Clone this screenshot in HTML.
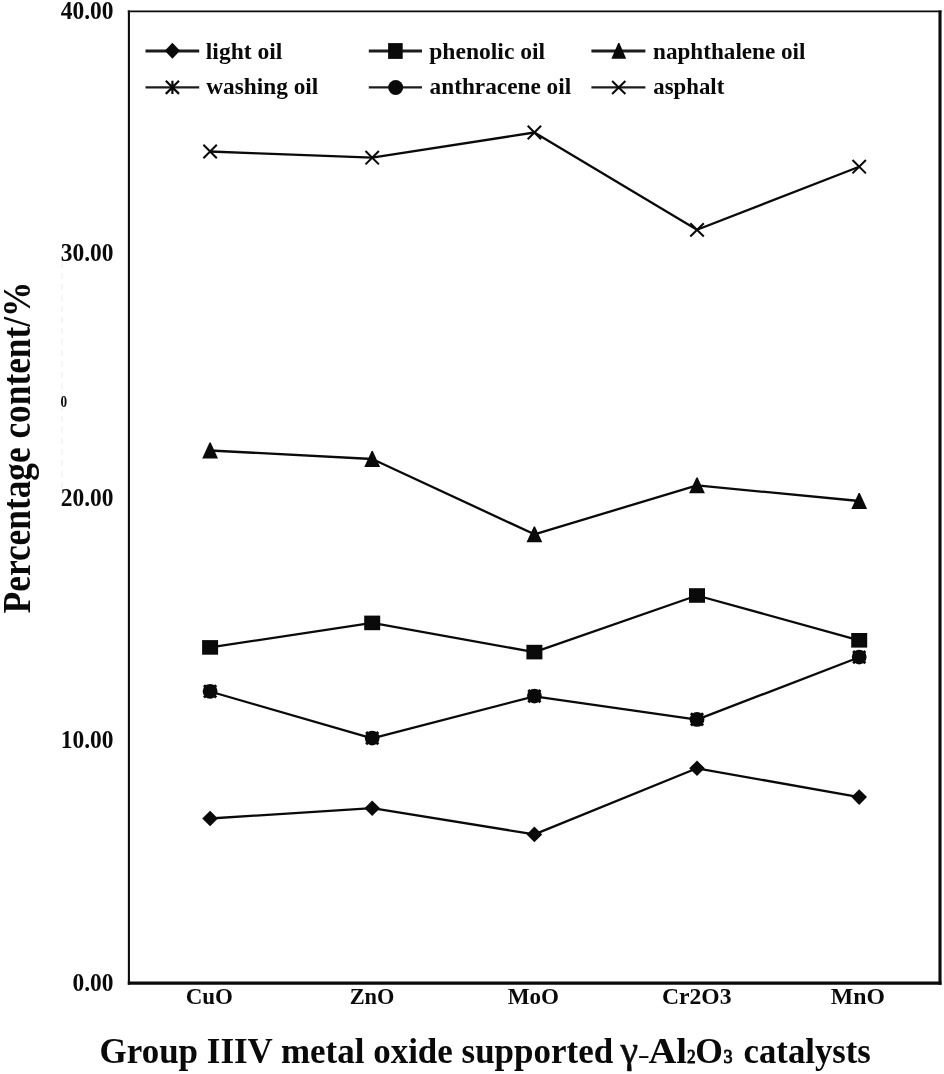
<!DOCTYPE html>
<html lang="en"><head><meta charset="utf-8"><title>Percentage content chart</title>
<style>html,body{margin:0;padding:0;background:#fff}svg{display:block;filter:blur(.45px)}text{font-family:"Liberation Serif","DejaVu Serif",serif;font-weight:bold;fill:#0a0a0a}.n,.n text{font-weight:normal}.s{stroke:#0a0a0a;stroke-width:.6px}.s2{stroke:#0a0a0a;stroke-width:.95px}</style>
</head><body>
<svg width="944" height="1074" viewBox="0 0 944 1074">
<rect width="944" height="1074" fill="#fff"/>
<line x1="62" y1="262" x2="62" y2="490" stroke="#eeeeee" stroke-width="1.2" stroke-dasharray="6 5"/>
<text x="60.6" y="406.8" font-size="17" textLength="6.6" lengthAdjust="spacingAndGlyphs">0</text>
<g stroke="#0a0a0a" fill="none">
<line x1="127.8" y1="11.4" x2="941.5" y2="11.4" stroke-width="1.9"/>
<line x1="128.9" y1="10.5" x2="128.9" y2="984.8" stroke-width="2.1"/>
<line x1="940" y1="10.5" x2="940" y2="984.8" stroke-width="3.1"/>
<line x1="127.8" y1="983.2" x2="941.5" y2="983.2" stroke-width="3.2"/>
</g>
<g fill="none" stroke="#0a0a0a" stroke-width="2.3" stroke-linejoin="round">
<polyline points="210.1,151.5 372.2,157.7 534.4,132.5 697.0,229.8 859.2,166.7"/>
<polyline points="210.1,450.5 372.2,459.0 534.4,534.3 697.0,485.4 859.2,501.0"/>
<polyline points="210.1,647.4 372.2,622.9 534.4,652.1 697.0,595.5 859.2,640.3"/>
<polyline points="210.1,691.5 372.2,738.3 534.4,696.3 697.0,719.6 859.2,657.3"/>
<polyline points="210.1,818.5 372.2,808.2 534.4,834.4 697.0,768.3 859.2,797.1"/>
</g>
<g fill="#0a0a0a">
<path d="M203.4 144.8L216.8 158.2M203.4 158.2L216.8 144.8" fill="none" stroke="#0a0a0a" stroke-width="2.05"/>
<path d="M365.5 151.0L378.9 164.4M365.5 164.4L378.9 151.0" fill="none" stroke="#0a0a0a" stroke-width="2.05"/>
<path d="M527.7 125.8L541.1 139.2M527.7 139.2L541.1 125.8" fill="none" stroke="#0a0a0a" stroke-width="2.05"/>
<path d="M690.3 223.2L703.8 236.5M690.3 236.5L703.8 223.2" fill="none" stroke="#0a0a0a" stroke-width="2.05"/>
<path d="M852.5 160.0L865.9 173.4M852.5 173.4L865.9 160.0" fill="none" stroke="#0a0a0a" stroke-width="2.05"/>
<path d="M202.2 458.4L209.5 442.6L210.7 442.6L218.0 458.4Z"/>
<path d="M364.3 466.9L371.6 451.1L372.8 451.1L380.1 466.9Z"/>
<path d="M526.5 542.2L533.8 526.4L535.0 526.4L542.3 542.2Z"/>
<path d="M689.1 493.3L696.4 477.5L697.6 477.5L704.9 493.3Z"/>
<path d="M851.3 508.9L858.6 493.1L859.8 493.1L867.1 508.9Z"/>
<rect x="202.1" y="640.1" width="16.0" height="14.6"/>
<rect x="364.2" y="615.6" width="16.0" height="14.6"/>
<rect x="526.4" y="644.8" width="16.0" height="14.6"/>
<rect x="689.0" y="588.2" width="16.0" height="14.6"/>
<rect x="851.2" y="633.0" width="16.0" height="14.6"/>
<circle cx="210.1" cy="691.3" r="7.4"/>
<path d="M204.0 685.2L216.2 697.4M204.0 697.4L216.2 685.2M210.1 685.2L210.1 697.4" fill="none" stroke="#0a0a0a" stroke-width="2.8"/>
<circle cx="372.2" cy="738.1" r="7.4"/>
<path d="M366.1 732.0L378.3 744.2M366.1 744.2L378.3 732.0M372.2 732.0L372.2 744.2" fill="none" stroke="#0a0a0a" stroke-width="2.8"/>
<circle cx="534.4" cy="696.1" r="7.4"/>
<path d="M528.3 690.0L540.5 702.2M528.3 702.2L540.5 690.0M534.4 690.0L534.4 702.2" fill="none" stroke="#0a0a0a" stroke-width="2.8"/>
<circle cx="697.0" cy="719.4" r="7.4"/>
<path d="M690.9 713.3L703.1 725.5M690.9 725.5L703.1 713.3M697.0 713.3L697.0 725.5" fill="none" stroke="#0a0a0a" stroke-width="2.8"/>
<circle cx="859.2" cy="657.1" r="7.4"/>
<path d="M853.1 651.0L865.3 663.2M853.1 663.2L865.3 651.0M859.2 651.0L859.2 663.2" fill="none" stroke="#0a0a0a" stroke-width="2.8"/>
<path d="M202.2 818.5L210.1 810.7L217.9 818.5L210.1 826.3Z"/>
<path d="M364.4 808.2L372.2 800.4L380.0 808.2L372.2 816.0Z"/>
<path d="M526.6 834.4L534.4 826.6L542.2 834.4L534.4 842.2Z"/>
<path d="M689.2 768.3L697.0 760.5L704.8 768.3L697.0 776.1Z"/>
<path d="M851.4 797.1L859.2 789.3L867.0 797.1L859.2 804.9Z"/>
</g>
<g stroke="#1c1c1c" stroke-width="3.1" fill="none">
<line x1="145.5" y1="50.95" x2="199.2" y2="50.95"/>
<line x1="145.5" y1="87.4" x2="199.2" y2="87.4" stroke-width="2.3"/>
<line x1="368.8" y1="50.95" x2="422.0" y2="50.95"/>
<line x1="368.8" y1="87.4" x2="422.0" y2="87.4" stroke-width="2.3"/>
<line x1="591.4" y1="50.95" x2="645.4" y2="50.95"/>
<line x1="591.4" y1="87.4" x2="645.4" y2="87.4" stroke-width="2.3"/>
</g>
<g fill="#0a0a0a">
<path d="M164.8 50.8L172.4 42.8L180.0 50.8L172.4 58.8Z"/>
<rect x="388.1" y="43.1" width="14.6" height="15.8"/>
<path d="M611.4 58.7L618.2 43.1L619.4 43.1L626.2 58.7Z"/>
<path d="M165.8 80.7L179.0 93.9M165.8 93.9L179.0 80.7M172.4 80.7L172.4 93.9" fill="none" stroke="#0a0a0a" stroke-width="2.2"/>
<circle cx="395.7" cy="87.5" r="7.5"/>
<path d="M612.1 80.9L625.4 94.0M612.1 94.0L625.4 80.9" fill="none" stroke="#0a0a0a" stroke-width="2.05"/>
</g>
<g font-size="24">
<text x="205.8" y="58.6" textLength="76.6" lengthAdjust="spacingAndGlyphs">light oil</text>
<text x="429.2" y="58.6" textLength="116" lengthAdjust="spacingAndGlyphs">phenolic oil</text>
<text x="653" y="58.6" textLength="152.5" lengthAdjust="spacingAndGlyphs">naphthalene oil</text>
<text x="206.3" y="94.2" textLength="112" lengthAdjust="spacingAndGlyphs">washing oil</text>
<text x="429.6" y="94.2" textLength="141.5" lengthAdjust="spacingAndGlyphs">anthracene oil</text>
<text x="653.3" y="94.2" textLength="71" lengthAdjust="spacingAndGlyphs">asphalt</text>
</g>
<g font-size="24.4" text-anchor="end">
<text x="113.5" y="18.8" textLength="52.8" lengthAdjust="spacingAndGlyphs">40.00</text>
<text x="113.5" y="261.2" textLength="52.8" lengthAdjust="spacingAndGlyphs">30.00</text>
<text x="113.5" y="505.5" textLength="52.8" lengthAdjust="spacingAndGlyphs">20.00</text>
<text x="113.5" y="748.2" textLength="52.8" lengthAdjust="spacingAndGlyphs">10.00</text>
<text x="113.5" y="990.7" textLength="41" lengthAdjust="spacingAndGlyphs">0.00</text>
</g>
<g font-size="23.5" text-anchor="middle">
<text x="209.3" y="1004.1" textLength="47.3" lengthAdjust="spacingAndGlyphs">CuO</text>
<text x="372.1" y="1004.1" textLength="44.8" lengthAdjust="spacingAndGlyphs">ZnO</text>
<text x="533.4" y="1004.1" textLength="51.4" lengthAdjust="spacingAndGlyphs">MoO</text>
<text x="696.7" y="1004.1" textLength="69.6" lengthAdjust="spacingAndGlyphs">Cr2O3</text>
<text x="857.9" y="1004.1" textLength="54.1" lengthAdjust="spacingAndGlyphs">MnO</text>
</g>
<text y="1062.5" font-size="35.5"><tspan x="99.6" textLength="513.5" lengthAdjust="spacingAndGlyphs">Group IIIV metal oxide supported</tspan> <tspan x="620.4" class="n s" font-size="37" textLength="17.6" lengthAdjust="spacingAndGlyphs">γ</tspan><tspan x="637.8" y="1062.8" class="n" font-size="25" textLength="12" lengthAdjust="spacingAndGlyphs">-</tspan><tspan x="648.4" y="1062.5" textLength="38.6" lengthAdjust="spacingAndGlyphs">Al</tspan><tspan x="686.9" y="1063.4" class="n s2" font-size="19.8" textLength="8.6" lengthAdjust="spacingAndGlyphs">2</tspan><tspan x="695.2" y="1062.5">O</tspan><tspan x="723.4" y="1063.4" class="n s2" font-size="19.8" textLength="9" lengthAdjust="spacingAndGlyphs">3</tspan> <tspan x="743.6" y="1062.5" textLength="127.2" lengthAdjust="spacingAndGlyphs">catalysts</tspan></text>
<text transform="translate(29.7 613.3) rotate(-90)" font-size="39.5" textLength="331.6" lengthAdjust="spacingAndGlyphs">Percentage content/%</text>
</svg>
</body></html>
